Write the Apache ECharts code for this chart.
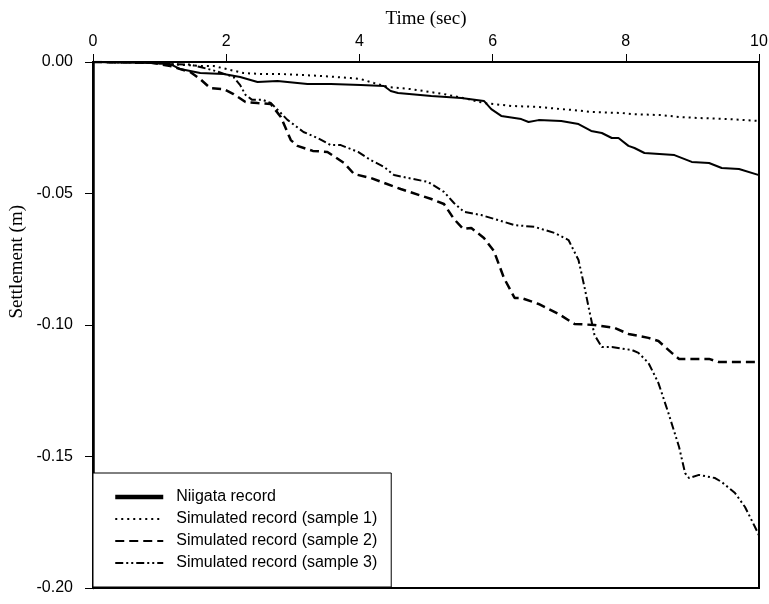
<!DOCTYPE html>
<html>
<head>
<meta charset="utf-8">
<script src="https://cdn.jsdelivr.net/npm/echarts@6/dist/echarts.min.js"></script>
<style>
  html, body { margin: 0; padding: 0; background: #fff; }
  #chart { width: 769px; height: 604px; }
</style>
</head>
<body>
<div id="chart"></div>
<script>
// 时间刻度 (sec) 与 沉降 (m)
const xTicks = [0, 2, 4, 6, 8, 10];
const yTicks = [0, -0.05, -0.1, -0.15, -0.2];

const niigataT = [0, 0.86, 1.16, 1.31, 1.61, 1.96, 2.21, 2.47, 2.77, 3.22, 3.57, 4.02, 4.37, 4.47, 4.58, 5.08, 5.53, 5.87, 5.98, 6.13, 6.43, 6.54, 6.69, 7.03, 7.29, 7.48, 7.64, 7.79, 7.89, 8.04, 8.13, 8.28, 8.73, 8.99, 9.25, 9.44, 9.70, 10];
const niigataS = [0, -0.0004, -0.0008, -0.0027, -0.0042, -0.0046, -0.0057, -0.0076, -0.0072, -0.0084, -0.0084, -0.0087, -0.0091, -0.011, -0.0118, -0.0129, -0.0137, -0.0148, -0.0179, -0.0205, -0.0217, -0.0228, -0.0221, -0.0224, -0.0236, -0.0262, -0.027, -0.0289, -0.0289, -0.0319, -0.0327, -0.0346, -0.0354, -0.038, -0.0384, -0.0403, -0.0407, -0.043];

const sample1T = [0, 0.86, 1.16, 1.61, 1.81, 2.06, 2.26, 2.56, 2.86, 3.42, 3.87, 4.02, 4.22, 4.43, 4.77, 5.27, 5.63, 5.87, 6.02, 6.28, 6.69, 7.03, 7.23, 7.48, 7.94, 8.09, 8.54, 8.80, 9.10, 9.55, 10];
const sample1S = [0, -0.0002, -0.0008, -0.0015, -0.0015, -0.003, -0.0042, -0.0046, -0.0046, -0.0053, -0.0061, -0.0065, -0.008, -0.0095, -0.0103, -0.0122, -0.0141, -0.0156, -0.016, -0.0167, -0.0171, -0.0179, -0.0183, -0.019, -0.0194, -0.0198, -0.0202, -0.0209, -0.0213, -0.0217, -0.0224];

const sample2T = [0, 0.86, 1.16, 1.31, 1.46, 1.61, 1.76, 1.96, 2.11, 2.29, 2.47, 2.67, 2.82, 2.97, 3.07, 3.30, 3.52, 3.77, 3.92, 4.17, 4.62, 5.08, 5.27, 5.42, 5.56, 5.68, 5.87, 6.02, 6.17, 6.33, 6.43, 6.69, 6.99, 7.23, 7.53, 7.83, 8.04, 8.34, 8.49, 8.69, 8.80, 9.25, 9.40, 10];
const sample2S = [0, -0.0002, -0.0015, -0.0027, -0.0038, -0.0065, -0.0099, -0.0103, -0.0122, -0.0152, -0.0156, -0.016, -0.0209, -0.0297, -0.0319, -0.0338, -0.0342, -0.0384, -0.0426, -0.0441, -0.0483, -0.0521, -0.054, -0.0597, -0.0635, -0.0631, -0.0669, -0.0719, -0.0821, -0.0897, -0.0897, -0.092, -0.0958, -0.0996, -0.1, -0.1011, -0.1034, -0.1049, -0.1061, -0.1106, -0.1129, -0.1129, -0.1141, -0.1141];

const sample3T = [0, 0.86, 1.16, 1.46, 1.61, 1.84, 2.11, 2.21, 2.29, 2.39, 2.55, 2.67, 2.82, 2.92, 3.16, 3.37, 3.57, 3.72, 3.98, 4.17, 4.37, 4.52, 4.73, 5.03, 5.27, 5.42, 5.57, 5.83, 6.08, 6.33, 6.63, 6.93, 7.14, 7.29, 7.38, 7.45, 7.53, 7.64, 7.79, 8.09, 8.19, 8.34, 8.49, 8.64, 8.80, 8.89, 8.95, 9.10, 9.34, 9.44, 9.64, 9.79, 9.94, 10];
const sample3S = [0, -0.0002, -0.0008, -0.001, -0.0019, -0.0034, -0.0057, -0.0088, -0.0125, -0.0144, -0.0144, -0.0156, -0.0194, -0.022, -0.0266, -0.0289, -0.0316, -0.0316, -0.0342, -0.0373, -0.0399, -0.043, -0.0441, -0.0456, -0.0494, -0.0536, -0.057, -0.0582, -0.0601, -0.062, -0.0627, -0.065, -0.0677, -0.0753, -0.0856, -0.0943, -0.1038, -0.1084, -0.1084, -0.1095, -0.1106, -0.1144, -0.1221, -0.1335, -0.1464, -0.1563, -0.1582, -0.157, -0.1582, -0.1597, -0.1639, -0.1692, -0.1768, -0.18];

const seriesNames = ['Niigata record', 'Simulated record (sample 1)', 'Simulated record (sample 2)', 'Simulated record (sample 3)'];

function zip(t, s) {
  return t.map((v, i) => [v, s[i]]);
}

const chart = echarts.init(document.getElementById('chart'), null, { renderer: 'canvas' });

const sansFont = 'Liberation Sans, Arial, sans-serif';
const serifFont = 'Liberation Serif, Times New Roman, serif';

// 图例只画线,不画圆点
const noDot = { opacity: 0 };

const option = {
  backgroundColor: '#fff',
  animation: false,
  grid: {
    left: 93, right: 10, top: 62, bottom: 16,
    outerBoundsMode: 'none',
    containLabel: false,
    show: true, borderColor: '#000', borderWidth: 2
  },
  xAxis: {
    type: 'value',
    position: 'top',
    min: xTicks[0],
    max: xTicks[xTicks.length - 1],
    interval: 2,
    name: 'Time (sec)',
    nameLocation: 'middle',
    nameGap: 33,
    nameMoveOverlap: false,
    nameTextStyle: { fontFamily: serifFont, fontSize: 19, color: '#000' },
    axisLine: { show: true, lineStyle: { color: '#000', width: 1.5 } },
    axisTick: { show: true, inside: false, length: 8, lineStyle: { color: '#000', width: 1 } },
    axisLabel: { color: '#000', fontFamily: sansFont, fontSize: 16, margin: 12 },
    splitLine: { show: false }
  },
  yAxis: {
    type: 'value',
    min: yTicks[yTicks.length - 1],
    max: yTicks[0],
    interval: 0.05,
    axisLine: { show: true, onZero: false, lineStyle: { color: '#000', width: 2.5 } },
    axisTick: { show: true, inside: false, length: 8, lineStyle: { color: '#000', width: 1 } },
    axisLabel: {
      color: '#000', fontFamily: sansFont, fontSize: 16, margin: 20,
      formatter: v => (Math.abs(v) < 1e-9 ? 0 : v).toFixed(2)
    },
    splitLine: { show: false }
  },
  legend: {
    orient: 'vertical',
    left: 93,
    top: 473,
    padding: [16, 14, 16, 20],
    itemWidth: 48,
    itemHeight: 14,
    itemGap: 6,
    backgroundColor: '#fff',
    borderColor: '#000',
    borderWidth: 1,
    borderRadius: 0,
    itemStyle: noDot,
    textStyle: { color: '#000', fontFamily: sansFont, fontSize: 16, padding: [0, 0, 0, 8] },
    data: [
      { name: seriesNames[0], itemStyle: noDot, lineStyle: { width: 4.5 } },
      { name: seriesNames[1], itemStyle: noDot },
      { name: seriesNames[2], itemStyle: noDot },
      { name: seriesNames[3], itemStyle: noDot }
    ]
  },
  graphic: [{
    type: 'text',
    left: 8,
    top: 205,
    rotation: Math.PI / 2,
    style: {
      text: 'Settlement (m)',
      fill: '#000',
      font: '19px "Liberation Serif", "Times New Roman", serif'
    }
  }],
  series: [
    {
      name: seriesNames[0], type: 'line', data: zip(niigataT, niigataS),
      symbol: 'none', z: 5, itemStyle: { color: '#000' },
      lineStyle: { color: '#000', width: 2, type: 'solid' }
    },
    {
      name: seriesNames[1], type: 'line', data: zip(sample1T, sample1S),
      symbol: 'none', itemStyle: { color: '#000' },
      lineStyle: { color: '#000', width: 2, type: [2, 4] }
    },
    {
      name: seriesNames[2], type: 'line', data: zip(sample2T, sample2S),
      symbol: 'none', itemStyle: { color: '#000' },
      lineStyle: { color: '#000', width: 2.5, type: [9, 5] }
    },
    {
      name: seriesNames[3], type: 'line', data: zip(sample3T, sample3S),
      symbol: 'none', itemStyle: { color: '#000' },
      lineStyle: { color: '#000', width: 2, type: [8, 3, 2, 3, 2, 3] }
    }
  ]
};

chart.setOption(option);
</script>
</body>
</html>
